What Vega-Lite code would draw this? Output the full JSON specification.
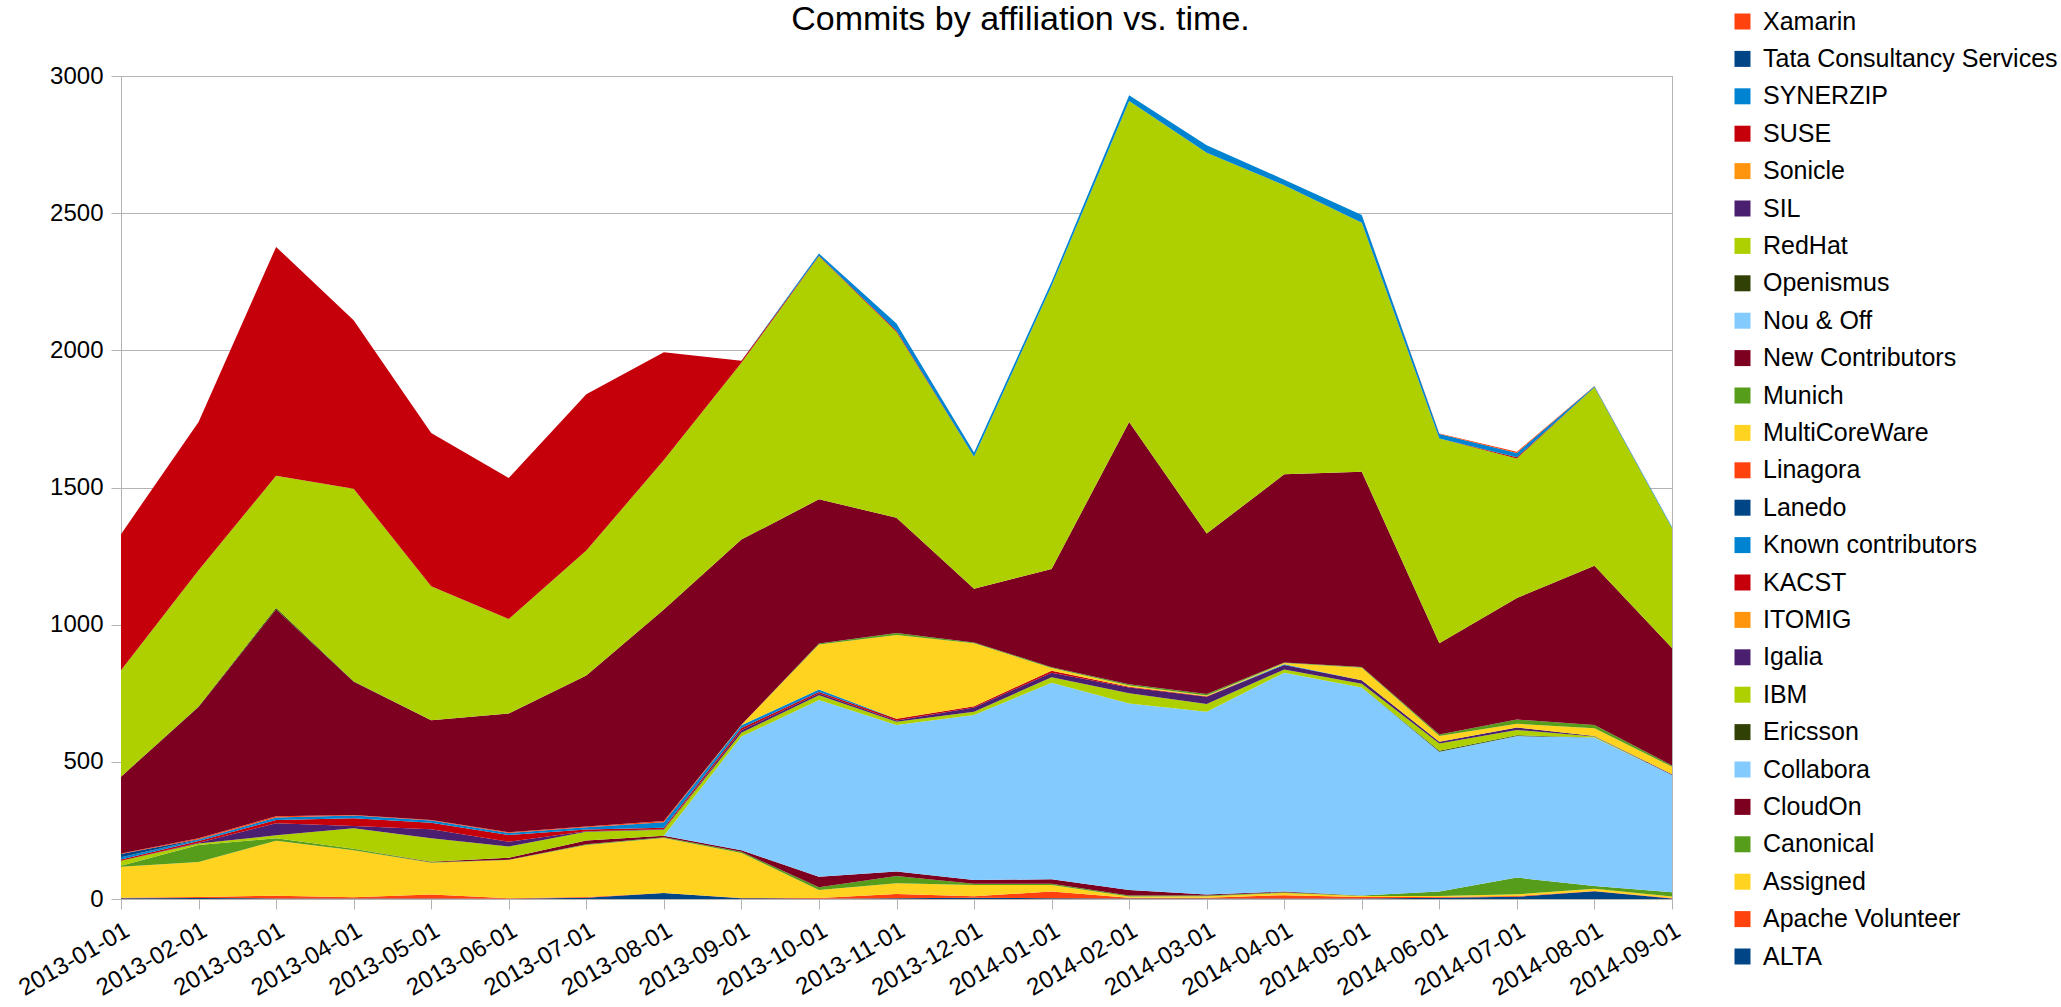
{
  "$schema": "https://vega.github.io/schema/vega-lite/v6.json",
  "width": 1551,
  "height": 823,
  "autosize": {"type": "none"},
  "padding": {"left": 121, "top": 76, "right": 389, "bottom": 108},
  "background": "white",
  "title": {"text": "Commits by affiliation vs. time.", "font": "Liberation Sans", "fontSize": 34, "fontWeight": "normal", "color": "black", "anchor": "middle", "frame": "group", "dx": 124, "dy": 55, "baseline": "alphabetic", "offset": 0},
  "config": {"view": {"stroke": "#b3b3b3", "strokeWidth": 1}, "font": "Liberation Sans"},
  "data": {"values": [
{"month":"2013-01-01","org":"ALTA","commits":3},{"month":"2013-01-01","org":"Apache Volunteer","commits":2},{"month":"2013-01-01","org":"Assigned","commits":113},{"month":"2013-01-01","org":"Canonical","commits":3},{"month":"2013-01-01","org":"CloudOn","commits":0},{"month":"2013-01-01","org":"Collabora","commits":0},{"month":"2013-01-01","org":"Ericsson","commits":0},{"month":"2013-01-01","org":"IBM","commits":18},{"month":"2013-01-01","org":"Igalia","commits":0},{"month":"2013-01-01","org":"KACST","commits":5},{"month":"2013-01-01","org":"Known contributors","commits":8},{"month":"2013-01-01","org":"Lanedo","commits":12},{"month":"2013-01-01","org":"Linagora","commits":2},{"month":"2013-01-01","org":"MultiCoreWare","commits":0},{"month":"2013-01-01","org":"Munich","commits":0},{"month":"2013-01-01","org":"New Contributors","commits":280},{"month":"2013-01-01","org":"Openismus","commits":0},{"month":"2013-01-01","org":"RedHat","commits":388},{"month":"2013-01-01","org":"SUSE","commits":496},{"month":"2013-01-01","org":"SYNERZIP","commits":0},{"month":"2013-01-01","org":"Xamarin","commits":0},
{"month":"2013-02-01","org":"ALTA","commits":4},{"month":"2013-02-01","org":"Apache Volunteer","commits":3},{"month":"2013-02-01","org":"Assigned","commits":128},{"month":"2013-02-01","org":"Canonical","commits":62},{"month":"2013-02-01","org":"CloudOn","commits":0},{"month":"2013-02-01","org":"Collabora","commits":0},{"month":"2013-02-01","org":"Ericsson","commits":0},{"month":"2013-02-01","org":"IBM","commits":5},{"month":"2013-02-01","org":"Igalia","commits":3},{"month":"2013-02-01","org":"KACST","commits":6},{"month":"2013-02-01","org":"Known contributors","commits":5},{"month":"2013-02-01","org":"Lanedo","commits":2},{"month":"2013-02-01","org":"Linagora","commits":3},{"month":"2013-02-01","org":"MultiCoreWare","commits":0},{"month":"2013-02-01","org":"Munich","commits":0},{"month":"2013-02-01","org":"New Contributors","commits":479},{"month":"2013-02-01","org":"Openismus","commits":2},{"month":"2013-02-01","org":"RedHat","commits":496},{"month":"2013-02-01","org":"SUSE","commits":541},{"month":"2013-02-01","org":"SYNERZIP","commits":0},{"month":"2013-02-01","org":"Xamarin","commits":0},
{"month":"2013-03-01","org":"ALTA","commits":2},{"month":"2013-03-01","org":"Apache Volunteer","commits":10},{"month":"2013-03-01","org":"Assigned","commits":200},{"month":"2013-03-01","org":"Canonical","commits":9},{"month":"2013-03-01","org":"CloudOn","commits":0},{"month":"2013-03-01","org":"Collabora","commits":0},{"month":"2013-03-01","org":"Ericsson","commits":0},{"month":"2013-03-01","org":"IBM","commits":11},{"month":"2013-03-01","org":"Igalia","commits":44},{"month":"2013-03-01","org":"KACST","commits":12},{"month":"2013-03-01","org":"Known contributors","commits":9},{"month":"2013-03-01","org":"Lanedo","commits":0},{"month":"2013-03-01","org":"Linagora","commits":5},{"month":"2013-03-01","org":"MultiCoreWare","commits":0},{"month":"2013-03-01","org":"Munich","commits":0},{"month":"2013-03-01","org":"New Contributors","commits":753},{"month":"2013-03-01","org":"Openismus","commits":6},{"month":"2013-03-01","org":"RedHat","commits":482},{"month":"2013-03-01","org":"SUSE","commits":834},{"month":"2013-03-01","org":"SYNERZIP","commits":0},{"month":"2013-03-01","org":"Xamarin","commits":0},
{"month":"2013-04-01","org":"ALTA","commits":2},{"month":"2013-04-01","org":"Apache Volunteer","commits":4},{"month":"2013-04-01","org":"Assigned","commits":172},{"month":"2013-04-01","org":"Canonical","commits":5},{"month":"2013-04-01","org":"CloudOn","commits":0},{"month":"2013-04-01","org":"Collabora","commits":0},{"month":"2013-04-01","org":"Ericsson","commits":0},{"month":"2013-04-01","org":"IBM","commits":75},{"month":"2013-04-01","org":"Igalia","commits":8},{"month":"2013-04-01","org":"KACST","commits":28},{"month":"2013-04-01","org":"Known contributors","commits":10},{"month":"2013-04-01","org":"Lanedo","commits":0},{"month":"2013-04-01","org":"Linagora","commits":2},{"month":"2013-04-01","org":"MultiCoreWare","commits":0},{"month":"2013-04-01","org":"Munich","commits":0},{"month":"2013-04-01","org":"New Contributors","commits":486},{"month":"2013-04-01","org":"Openismus","commits":2},{"month":"2013-04-01","org":"RedHat","commits":701},{"month":"2013-04-01","org":"SUSE","commits":615},{"month":"2013-04-01","org":"SYNERZIP","commits":0},{"month":"2013-04-01","org":"Xamarin","commits":0},
{"month":"2013-05-01","org":"ALTA","commits":2},{"month":"2013-05-01","org":"Apache Volunteer","commits":14},{"month":"2013-05-01","org":"Assigned","commits":116},{"month":"2013-05-01","org":"Canonical","commits":2},{"month":"2013-05-01","org":"CloudOn","commits":2},{"month":"2013-05-01","org":"Collabora","commits":0},{"month":"2013-05-01","org":"Ericsson","commits":0},{"month":"2013-05-01","org":"IBM","commits":85},{"month":"2013-05-01","org":"Igalia","commits":33},{"month":"2013-05-01","org":"KACST","commits":24},{"month":"2013-05-01","org":"Known contributors","commits":8},{"month":"2013-05-01","org":"Lanedo","commits":0},{"month":"2013-05-01","org":"Linagora","commits":2},{"month":"2013-05-01","org":"MultiCoreWare","commits":0},{"month":"2013-05-01","org":"Munich","commits":0},{"month":"2013-05-01","org":"New Contributors","commits":364},{"month":"2013-05-01","org":"Openismus","commits":0},{"month":"2013-05-01","org":"RedHat","commits":488},{"month":"2013-05-01","org":"SUSE","commits":559},{"month":"2013-05-01","org":"SYNERZIP","commits":0},{"month":"2013-05-01","org":"Xamarin","commits":0},
{"month":"2013-06-01","org":"ALTA","commits":1},{"month":"2013-06-01","org":"Apache Volunteer","commits":2},{"month":"2013-06-01","org":"Assigned","commits":139},{"month":"2013-06-01","org":"Canonical","commits":1},{"month":"2013-06-01","org":"CloudOn","commits":7},{"month":"2013-06-01","org":"Collabora","commits":0},{"month":"2013-06-01","org":"Ericsson","commits":0},{"month":"2013-06-01","org":"IBM","commits":41},{"month":"2013-06-01","org":"Igalia","commits":18},{"month":"2013-06-01","org":"KACST","commits":24},{"month":"2013-06-01","org":"Known contributors","commits":8},{"month":"2013-06-01","org":"Lanedo","commits":0},{"month":"2013-06-01","org":"Linagora","commits":2},{"month":"2013-06-01","org":"MultiCoreWare","commits":0},{"month":"2013-06-01","org":"Munich","commits":0},{"month":"2013-06-01","org":"New Contributors","commits":433},{"month":"2013-06-01","org":"Openismus","commits":0},{"month":"2013-06-01","org":"RedHat","commits":345},{"month":"2013-06-01","org":"SUSE","commits":514},{"month":"2013-06-01","org":"SYNERZIP","commits":0},{"month":"2013-06-01","org":"Xamarin","commits":0},
{"month":"2013-07-01","org":"ALTA","commits":5},{"month":"2013-07-01","org":"Apache Volunteer","commits":2},{"month":"2013-07-01","org":"Assigned","commits":190},{"month":"2013-07-01","org":"Canonical","commits":3},{"month":"2013-07-01","org":"CloudOn","commits":13},{"month":"2013-07-01","org":"Collabora","commits":0},{"month":"2013-07-01","org":"Ericsson","commits":0},{"month":"2013-07-01","org":"IBM","commits":32},{"month":"2013-07-01","org":"Igalia","commits":2},{"month":"2013-07-01","org":"KACST","commits":6},{"month":"2013-07-01","org":"Known contributors","commits":9},{"month":"2013-07-01","org":"Lanedo","commits":0},{"month":"2013-07-01","org":"Linagora","commits":2},{"month":"2013-07-01","org":"MultiCoreWare","commits":0},{"month":"2013-07-01","org":"Munich","commits":0},{"month":"2013-07-01","org":"New Contributors","commits":551},{"month":"2013-07-01","org":"Openismus","commits":0},{"month":"2013-07-01","org":"RedHat","commits":455},{"month":"2013-07-01","org":"SUSE","commits":570},{"month":"2013-07-01","org":"SYNERZIP","commits":0},{"month":"2013-07-01","org":"Xamarin","commits":0},
{"month":"2013-08-01","org":"ALTA","commits":22},{"month":"2013-08-01","org":"Apache Volunteer","commits":0},{"month":"2013-08-01","org":"Assigned","commits":200},{"month":"2013-08-01","org":"Canonical","commits":3},{"month":"2013-08-01","org":"CloudOn","commits":6},{"month":"2013-08-01","org":"Collabora","commits":0},{"month":"2013-08-01","org":"Ericsson","commits":0},{"month":"2013-08-01","org":"IBM","commits":21},{"month":"2013-08-01","org":"Igalia","commits":2},{"month":"2013-08-01","org":"KACST","commits":6},{"month":"2013-08-01","org":"Known contributors","commits":20},{"month":"2013-08-01","org":"Lanedo","commits":0},{"month":"2013-08-01","org":"Linagora","commits":4},{"month":"2013-08-01","org":"MultiCoreWare","commits":0},{"month":"2013-08-01","org":"Munich","commits":0},{"month":"2013-08-01","org":"New Contributors","commits":771},{"month":"2013-08-01","org":"Openismus","commits":0},{"month":"2013-08-01","org":"RedHat","commits":545},{"month":"2013-08-01","org":"SUSE","commits":393},{"month":"2013-08-01","org":"SYNERZIP","commits":0},{"month":"2013-08-01","org":"Xamarin","commits":0},
{"month":"2013-09-01","org":"ALTA","commits":3},{"month":"2013-09-01","org":"Apache Volunteer","commits":1},{"month":"2013-09-01","org":"Assigned","commits":164},{"month":"2013-09-01","org":"Canonical","commits":4},{"month":"2013-09-01","org":"CloudOn","commits":6},{"month":"2013-09-01","org":"Collabora","commits":414},{"month":"2013-09-01","org":"Ericsson","commits":0},{"month":"2013-09-01","org":"IBM","commits":14},{"month":"2013-09-01","org":"Igalia","commits":9},{"month":"2013-09-01","org":"KACST","commits":8},{"month":"2013-09-01","org":"Known contributors","commits":10},{"month":"2013-09-01","org":"Lanedo","commits":0},{"month":"2013-09-01","org":"Linagora","commits":0},{"month":"2013-09-01","org":"MultiCoreWare","commits":2},{"month":"2013-09-01","org":"Munich","commits":0},{"month":"2013-09-01","org":"New Contributors","commits":675},{"month":"2013-09-01","org":"Openismus","commits":0},{"month":"2013-09-01","org":"RedHat","commits":645},{"month":"2013-09-01","org":"SUSE","commits":7},{"month":"2013-09-01","org":"SYNERZIP","commits":0},{"month":"2013-09-01","org":"Xamarin","commits":0},
{"month":"2013-10-01","org":"ALTA","commits":1},{"month":"2013-10-01","org":"Apache Volunteer","commits":3},{"month":"2013-10-01","org":"Assigned","commits":29},{"month":"2013-10-01","org":"Canonical","commits":10},{"month":"2013-10-01","org":"CloudOn","commits":38},{"month":"2013-10-01","org":"Collabora","commits":644},{"month":"2013-10-01","org":"Ericsson","commits":0},{"month":"2013-10-01","org":"IBM","commits":18},{"month":"2013-10-01","org":"Igalia","commits":6},{"month":"2013-10-01","org":"KACST","commits":6},{"month":"2013-10-01","org":"Known contributors","commits":9},{"month":"2013-10-01","org":"Lanedo","commits":0},{"month":"2013-10-01","org":"Linagora","commits":0},{"month":"2013-10-01","org":"MultiCoreWare","commits":164},{"month":"2013-10-01","org":"Munich","commits":3},{"month":"2013-10-01","org":"New Contributors","commits":526},{"month":"2013-10-01","org":"Openismus","commits":0},{"month":"2013-10-01","org":"RedHat","commits":886},{"month":"2013-10-01","org":"SUSE","commits":2},{"month":"2013-10-01","org":"SYNERZIP","commits":8},{"month":"2013-10-01","org":"Xamarin","commits":0},
{"month":"2013-11-01","org":"ALTA","commits":3},{"month":"2013-11-01","org":"Apache Volunteer","commits":15},{"month":"2013-11-01","org":"Assigned","commits":39},{"month":"2013-11-01","org":"Canonical","commits":27},{"month":"2013-11-01","org":"CloudOn","commits":16},{"month":"2013-11-01","org":"Collabora","commits":534},{"month":"2013-11-01","org":"Ericsson","commits":0},{"month":"2013-11-01","org":"IBM","commits":12},{"month":"2013-11-01","org":"Igalia","commits":5},{"month":"2013-11-01","org":"KACST","commits":6},{"month":"2013-11-01","org":"Known contributors","commits":0},{"month":"2013-11-01","org":"Lanedo","commits":0},{"month":"2013-11-01","org":"Linagora","commits":0},{"month":"2013-11-01","org":"MultiCoreWare","commits":305},{"month":"2013-11-01","org":"Munich","commits":8},{"month":"2013-11-01","org":"New Contributors","commits":420},{"month":"2013-11-01","org":"Openismus","commits":0},{"month":"2013-11-01","org":"RedHat","commits":677},{"month":"2013-11-01","org":"SUSE","commits":4},{"month":"2013-11-01","org":"SYNERZIP","commits":27},{"month":"2013-11-01","org":"Xamarin","commits":0},
{"month":"2013-12-01","org":"ALTA","commits":5},{"month":"2013-12-01","org":"Apache Volunteer","commits":5},{"month":"2013-12-01","org":"Assigned","commits":41},{"month":"2013-12-01","org":"Canonical","commits":5},{"month":"2013-12-01","org":"CloudOn","commits":13},{"month":"2013-12-01","org":"Collabora","commits":602},{"month":"2013-12-01","org":"Ericsson","commits":0},{"month":"2013-12-01","org":"IBM","commits":12},{"month":"2013-12-01","org":"Igalia","commits":15},{"month":"2013-12-01","org":"KACST","commits":5},{"month":"2013-12-01","org":"Known contributors","commits":0},{"month":"2013-12-01","org":"Lanedo","commits":0},{"month":"2013-12-01","org":"Linagora","commits":0},{"month":"2013-12-01","org":"MultiCoreWare","commits":229},{"month":"2013-12-01","org":"Munich","commits":3},{"month":"2013-12-01","org":"New Contributors","commits":196},{"month":"2013-12-01","org":"Openismus","commits":0},{"month":"2013-12-01","org":"RedHat","commits":481},{"month":"2013-12-01","org":"SUSE","commits":0},{"month":"2013-12-01","org":"SYNERZIP","commits":16},{"month":"2013-12-01","org":"Xamarin","commits":0},
{"month":"2014-01-01","org":"ALTA","commits":3},{"month":"2014-01-01","org":"Apache Volunteer","commits":24},{"month":"2014-01-01","org":"Assigned","commits":24},{"month":"2014-01-01","org":"Canonical","commits":5},{"month":"2014-01-01","org":"CloudOn","commits":16},{"month":"2014-01-01","org":"Collabora","commits":716},{"month":"2014-01-01","org":"Ericsson","commits":0},{"month":"2014-01-01","org":"IBM","commits":20},{"month":"2014-01-01","org":"Igalia","commits":17},{"month":"2014-01-01","org":"KACST","commits":7},{"month":"2014-01-01","org":"Known contributors","commits":0},{"month":"2014-01-01","org":"Lanedo","commits":0},{"month":"2014-01-01","org":"Linagora","commits":0},{"month":"2014-01-01","org":"MultiCoreWare","commits":10},{"month":"2014-01-01","org":"Munich","commits":3},{"month":"2014-01-01","org":"New Contributors","commits":358},{"month":"2014-01-01","org":"Openismus","commits":0},{"month":"2014-01-01","org":"RedHat","commits":1032},{"month":"2014-01-01","org":"SUSE","commits":0},{"month":"2014-01-01","org":"SYNERZIP","commits":15},{"month":"2014-01-01","org":"Xamarin","commits":0},
{"month":"2014-02-01","org":"ALTA","commits":2},{"month":"2014-02-01","org":"Apache Volunteer","commits":3},{"month":"2014-02-01","org":"Assigned","commits":4},{"month":"2014-02-01","org":"Canonical","commits":4},{"month":"2014-02-01","org":"CloudOn","commits":20},{"month":"2014-02-01","org":"Collabora","commits":680},{"month":"2014-02-01","org":"Ericsson","commits":0},{"month":"2014-02-01","org":"IBM","commits":37},{"month":"2014-02-01","org":"Igalia","commits":21},{"month":"2014-02-01","org":"KACST","commits":3},{"month":"2014-02-01","org":"Known contributors","commits":0},{"month":"2014-02-01","org":"Lanedo","commits":0},{"month":"2014-02-01","org":"Linagora","commits":0},{"month":"2014-02-01","org":"MultiCoreWare","commits":4},{"month":"2014-02-01","org":"Munich","commits":5},{"month":"2014-02-01","org":"New Contributors","commits":956},{"month":"2014-02-01","org":"Openismus","commits":0},{"month":"2014-02-01","org":"RedHat","commits":1170},{"month":"2014-02-01","org":"SUSE","commits":0},{"month":"2014-02-01","org":"SYNERZIP","commits":21},{"month":"2014-02-01","org":"Xamarin","commits":0},
{"month":"2014-03-01","org":"ALTA","commits":2},{"month":"2014-03-01","org":"Apache Volunteer","commits":3},{"month":"2014-03-01","org":"Assigned","commits":5},{"month":"2014-03-01","org":"Canonical","commits":3},{"month":"2014-03-01","org":"CloudOn","commits":3},{"month":"2014-03-01","org":"Collabora","commits":667},{"month":"2014-03-01","org":"Ericsson","commits":0},{"month":"2014-03-01","org":"IBM","commits":28},{"month":"2014-03-01","org":"Igalia","commits":26},{"month":"2014-03-01","org":"KACST","commits":2},{"month":"2014-03-01","org":"Known contributors","commits":0},{"month":"2014-03-01","org":"Lanedo","commits":0},{"month":"2014-03-01","org":"Linagora","commits":0},{"month":"2014-03-01","org":"MultiCoreWare","commits":3},{"month":"2014-03-01","org":"Munich","commits":5},{"month":"2014-03-01","org":"New Contributors","commits":585},{"month":"2014-03-01","org":"Openismus","commits":0},{"month":"2014-03-01","org":"RedHat","commits":1388},{"month":"2014-03-01","org":"SUSE","commits":0},{"month":"2014-03-01","org":"SYNERZIP","commits":28},{"month":"2014-03-01","org":"Xamarin","commits":0},
{"month":"2014-04-01","org":"ALTA","commits":2},{"month":"2014-04-01","org":"Apache Volunteer","commits":12},{"month":"2014-04-01","org":"Assigned","commits":8},{"month":"2014-04-01","org":"Canonical","commits":3},{"month":"2014-04-01","org":"CloudOn","commits":2},{"month":"2014-04-01","org":"Collabora","commits":798},{"month":"2014-04-01","org":"Ericsson","commits":0},{"month":"2014-04-01","org":"IBM","commits":12},{"month":"2014-04-01","org":"Igalia","commits":16},{"month":"2014-04-01","org":"KACST","commits":0},{"month":"2014-04-01","org":"Known contributors","commits":3},{"month":"2014-04-01","org":"Lanedo","commits":0},{"month":"2014-04-01","org":"Linagora","commits":0},{"month":"2014-04-01","org":"MultiCoreWare","commits":4},{"month":"2014-04-01","org":"Munich","commits":2},{"month":"2014-04-01","org":"New Contributors","commits":686},{"month":"2014-04-01","org":"Openismus","commits":0},{"month":"2014-04-01","org":"RedHat","commits":1054},{"month":"2014-04-01","org":"SUSE","commits":0},{"month":"2014-04-01","org":"SYNERZIP","commits":20},{"month":"2014-04-01","org":"Xamarin","commits":0},
{"month":"2014-05-01","org":"ALTA","commits":2},{"month":"2014-05-01","org":"Apache Volunteer","commits":5},{"month":"2014-05-01","org":"Assigned","commits":4},{"month":"2014-05-01","org":"Canonical","commits":2},{"month":"2014-05-01","org":"CloudOn","commits":0},{"month":"2014-05-01","org":"Collabora","commits":758},{"month":"2014-05-01","org":"Ericsson","commits":0},{"month":"2014-05-01","org":"IBM","commits":14},{"month":"2014-05-01","org":"Igalia","commits":12},{"month":"2014-05-01","org":"KACST","commits":0},{"month":"2014-05-01","org":"Known contributors","commits":0},{"month":"2014-05-01","org":"Lanedo","commits":0},{"month":"2014-05-01","org":"Linagora","commits":0},{"month":"2014-05-01","org":"MultiCoreWare","commits":46},{"month":"2014-05-01","org":"Munich","commits":3},{"month":"2014-05-01","org":"New Contributors","commits":711},{"month":"2014-05-01","org":"Openismus","commits":0},{"month":"2014-05-01","org":"RedHat","commits":908},{"month":"2014-05-01","org":"SUSE","commits":0},{"month":"2014-05-01","org":"SYNERZIP","commits":28},{"month":"2014-05-01","org":"Xamarin","commits":0},
{"month":"2014-06-01","org":"ALTA","commits":5},{"month":"2014-06-01","org":"Apache Volunteer","commits":2},{"month":"2014-06-01","org":"Assigned","commits":4},{"month":"2014-06-01","org":"Canonical","commits":16},{"month":"2014-06-01","org":"CloudOn","commits":0},{"month":"2014-06-01","org":"Collabora","commits":510},{"month":"2014-06-01","org":"Ericsson","commits":3},{"month":"2014-06-01","org":"IBM","commits":27},{"month":"2014-06-01","org":"Igalia","commits":6},{"month":"2014-06-01","org":"KACST","commits":0},{"month":"2014-06-01","org":"Known contributors","commits":0},{"month":"2014-06-01","org":"Lanedo","commits":0},{"month":"2014-06-01","org":"Linagora","commits":0},{"month":"2014-06-01","org":"MultiCoreWare","commits":21},{"month":"2014-06-01","org":"Munich","commits":6},{"month":"2014-06-01","org":"New Contributors","commits":332},{"month":"2014-06-01","org":"Openismus","commits":0},{"month":"2014-06-01","org":"RedHat","commits":747},{"month":"2014-06-01","org":"SUSE","commits":0},{"month":"2014-06-01","org":"SYNERZIP","commits":16},{"month":"2014-06-01","org":"Xamarin","commits":2},
{"month":"2014-07-01","org":"ALTA","commits":8},{"month":"2014-07-01","org":"Apache Volunteer","commits":3},{"month":"2014-07-01","org":"Assigned","commits":6},{"month":"2014-07-01","org":"Canonical","commits":61},{"month":"2014-07-01","org":"CloudOn","commits":0},{"month":"2014-07-01","org":"Collabora","commits":516},{"month":"2014-07-01","org":"Ericsson","commits":3},{"month":"2014-07-01","org":"IBM","commits":19},{"month":"2014-07-01","org":"Igalia","commits":9},{"month":"2014-07-01","org":"KACST","commits":0},{"month":"2014-07-01","org":"Known contributors","commits":0},{"month":"2014-07-01","org":"Lanedo","commits":0},{"month":"2014-07-01","org":"Linagora","commits":0},{"month":"2014-07-01","org":"MultiCoreWare","commits":14},{"month":"2014-07-01","org":"Munich","commits":15},{"month":"2014-07-01","org":"New Contributors","commits":443},{"month":"2014-07-01","org":"Openismus","commits":0},{"month":"2014-07-01","org":"RedHat","commits":509},{"month":"2014-07-01","org":"SUSE","commits":4},{"month":"2014-07-01","org":"SYNERZIP","commits":16},{"month":"2014-07-01","org":"Xamarin","commits":4},
{"month":"2014-08-01","org":"ALTA","commits":28},{"month":"2014-08-01","org":"Apache Volunteer","commits":1},{"month":"2014-08-01","org":"Assigned","commits":8},{"month":"2014-08-01","org":"Canonical","commits":10},{"month":"2014-08-01","org":"CloudOn","commits":0},{"month":"2014-08-01","org":"Collabora","commits":542},{"month":"2014-08-01","org":"Ericsson","commits":0},{"month":"2014-08-01","org":"IBM","commits":3},{"month":"2014-08-01","org":"Igalia","commits":2},{"month":"2014-08-01","org":"KACST","commits":0},{"month":"2014-08-01","org":"Known contributors","commits":0},{"month":"2014-08-01","org":"Lanedo","commits":0},{"month":"2014-08-01","org":"Linagora","commits":0},{"month":"2014-08-01","org":"MultiCoreWare","commits":28},{"month":"2014-08-01","org":"Munich","commits":12},{"month":"2014-08-01","org":"New Contributors","commits":581},{"month":"2014-08-01","org":"Openismus","commits":0},{"month":"2014-08-01","org":"RedHat","commits":650},{"month":"2014-08-01","org":"SUSE","commits":0},{"month":"2014-08-01","org":"SYNERZIP","commits":4},{"month":"2014-08-01","org":"Xamarin","commits":1},
{"month":"2014-09-01","org":"ALTA","commits":2},{"month":"2014-09-01","org":"Apache Volunteer","commits":2},{"month":"2014-09-01","org":"Assigned","commits":5},{"month":"2014-09-01","org":"Canonical","commits":16},{"month":"2014-09-01","org":"CloudOn","commits":0},{"month":"2014-09-01","org":"Collabora","commits":427},{"month":"2014-09-01","org":"Ericsson","commits":0},{"month":"2014-09-01","org":"IBM","commits":0},{"month":"2014-09-01","org":"Igalia","commits":3},{"month":"2014-09-01","org":"KACST","commits":0},{"month":"2014-09-01","org":"Known contributors","commits":0},{"month":"2014-09-01","org":"Lanedo","commits":0},{"month":"2014-09-01","org":"Linagora","commits":0},{"month":"2014-09-01","org":"MultiCoreWare","commits":27},{"month":"2014-09-01","org":"Munich","commits":5},{"month":"2014-09-01","org":"New Contributors","commits":428},{"month":"2014-09-01","org":"Openismus","commits":0},{"month":"2014-09-01","org":"RedHat","commits":437},{"month":"2014-09-01","org":"SUSE","commits":0},{"month":"2014-09-01","org":"SYNERZIP","commits":4},{"month":"2014-09-01","org":"Xamarin","commits":0}
  ]},
  "mark": {"type": "area", "interpolate": "linear", "strokeWidth": 0},
  "encoding": {
    "x": {"field": "month", "type": "ordinal", "scale": {"type": "point", "padding": 0},
      "axis": {"title": null, "labelAngle": -30, "labelAlign": "right", "labelBaseline": "top", "labelFont": "Liberation Sans", "labelFontSize": 24, "labelColor": "black", "labelPadding": 9, "labelOverlap": false, "domainColor": "#b3b3b3", "tickColor": "#b3b3b3", "tickSize": 10, "grid": false}},
    "y": {"field": "commits", "type": "quantitative", "stack": "zero", "scale": {"domain": [0, 3000], "nice": false},
      "axis": {"title": null, "values": [0, 500, 1000, 1500, 2000, 2500, 3000], "format": "d", "labelFont": "Liberation Sans", "labelFontSize": 24, "labelColor": "black", "labelPadding": 8, "domainColor": "#b3b3b3", "tickColor": "#b3b3b3", "tickSize": 10, "grid": true, "gridColor": "#b3b3b3"}},
    "order": {"field": "org", "type": "nominal", "sort": "ascending"},
    "color": {"field": "org", "type": "nominal",
      "scale": {"domain": ["Xamarin", "Tata Consultancy Services", "SYNERZIP", "SUSE", "Sonicle", "SIL", "RedHat", "Openismus", "Nou & Off", "New Contributors", "Munich", "MultiCoreWare", "Linagora", "Lanedo", "Known contributors", "KACST", "ITOMIG", "Igalia", "IBM", "Ericsson", "Collabora", "CloudOn", "Canonical", "Assigned", "Apache Volunteer", "ALTA"],
        "range": ["#ff420e", "#004586", "#0084d1", "#c5000b", "#ff950e", "#4b1f6f", "#aecf00", "#314004", "#83caff", "#7e0021", "#579d1c", "#ffd320", "#ff420e", "#004586", "#0084d1", "#c5000b", "#ff950e", "#4b1f6f", "#aecf00", "#314004", "#83caff", "#7e0021", "#579d1c", "#ffd320", "#ff420e", "#004586"]},
      "legend": {"orient": "none", "legendX": 1609, "legendY": -67, "title": null, "padding": 0, "symbolType": "square", "symbolSize": 256, "symbolStrokeWidth": 0, "symbolOpacity": 1, "labelFont": "Liberation Sans", "labelFontSize": 25, "labelColor": "black", "labelLimit": 500, "labelOffset": 8, "rowPadding": 11.4}}
  }
}
